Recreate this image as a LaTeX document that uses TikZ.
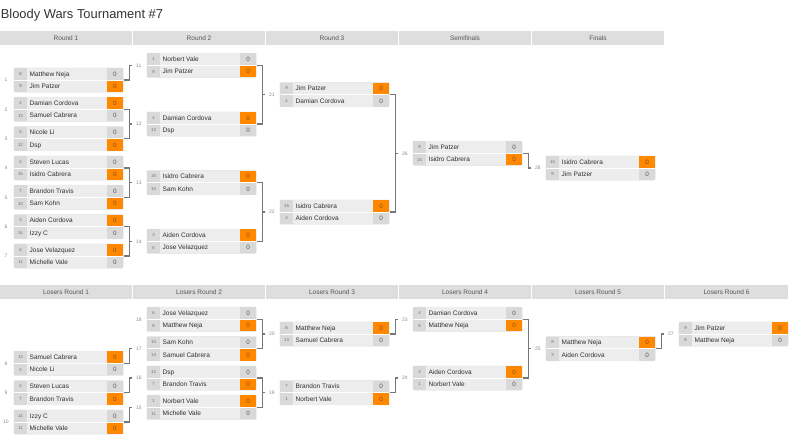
\documentclass[tikz,border=0pt]{standalone}
\usepackage{fontspec}
\setmainfont{Liberation Sans}
\usetikzlibrary{calc}
\definecolor{hdr}{HTML}{DEDEDE}
\definecolor{hdrtxt}{HTML}{555555}
\definecolor{seedbg}{HTML}{D9D9D9}
\definecolor{namebg}{HTML}{EDEDED}
\definecolor{scorebg}{HTML}{D9D9D9}
\definecolor{winbg}{HTML}{FF8800}
\definecolor{wintxt}{HTML}{8C4A00}
\definecolor{losetxt}{HTML}{555555}
\definecolor{nametxt}{HTML}{2E2E2E}
\definecolor{seedtxt}{HTML}{6E6E6E}
\definecolor{lbltxt}{HTML}{888888}
\definecolor{connc}{HTML}{777777}
\definecolor{titletxt}{HTML}{333333}
\definecolor{boxedge}{HTML}{E8E8E8}
\tikzset{
  hdrlbl/.style={font=\fontsize{6.5}{7}\selectfont, text=hdrtxt, inner sep=0pt, anchor=base},
  matchbox/.style={minimum width=109pt, minimum height=24pt, inner sep=0pt, draw=boxedge, line width=1pt, rounded corners=1pt},
  seedlbl/.style={font=\fontsize{4.3}{5}\selectfont, text=seedtxt, inner sep=0pt, anchor=base},
  namelbl/.style={font=\fontsize{6.5}{7}\selectfont, text=nametxt, inner sep=0pt, anchor=base west},
  scorelbl/.style={font=\fontsize{6.3}{7}\selectfont, inner sep=0pt, anchor=base},
  lbl/.style={font=\fontsize{5}{6}\selectfont, text=lbltxt, inner sep=0pt, anchor=west},
  rlbl/.style={font=\fontsize{5}{6}\selectfont, text=lbltxt, inner sep=0pt},
  conn/.style={draw=connc, line width=1.2pt},
}
% row: id, x0, ytop, seed, name, A/B
\newcommand\brow[6]{%
  \fill[seedbg] (#2,#3) rectangle ++(13,11.5);
  \fill[namebg] ({#2+13},#3) rectangle ++(80,11.5);
  \fill[sc#6] ({#2+93},#3) rectangle ++(16,11.5);
  \node[seedlbl] (#1s) at ({#2+6.5},{#3+7.3}) {#4};
  \node[namelbl] (#1n) at ({#2+15.5},{#3+8.1}) {#5};
  \node[scorelbl, text=st#6] (#1p) at ({#2+101},{#3+8.1}) {0};
}
% match: id, x0, ycenter, seed1, name1, winner(1/2), seed2, name2
\newcommand\bmatch[8]{%
  \ifnum#6=1 \colorlet{scA}{winbg}\colorlet{stA}{wintxt}\colorlet{scB}{scorebg}\colorlet{stB}{losetxt}%
  \else \colorlet{scA}{scorebg}\colorlet{stA}{losetxt}\colorlet{scB}{winbg}\colorlet{stB}{wintxt}\fi
  \node[matchbox] (m#1) at ({#2+54.5},{#3}) {};
  \brow{m#1a}{#2}{#3-12}{#4}{#5}{A}
  \brow{m#1b}{#2}{#3+0.5}{#7}{#8}{B}
}
\newcommand\bsingle[2]{\draw[conn] (m#1.east) -- ++(5.7,0) |- ([xshift=-4pt]l#2.west);}
\newcommand\bpairc[3]{\draw[conn] (m#1.east) -- ++(5.7,0) |- (m#2.east);
  \draw[conn] ([xshift=-4pt]l#3.west) -- ++(-3.3,0);}
\begin{document}
\begin{tikzpicture}[x=1pt,y=-1pt]
\useasboundingbox (0,0) rectangle (799,442);
\node[anchor=base west, inner sep=0pt, font=\fontsize{12.9}{14}\selectfont, text=titletxt] (title) at (0.6,18.2) {Bloody Wars Tournament \#7};
% headers
\foreach \i/\t in {0/Round 1,1/Round 2,2/Round 3,3/Semifinals,4/Finals}{
  \fill[hdr] ({133*\i},31) rectangle ++(132,14);
  \node[hdrlbl] (hw\i) at ({133*\i+66},40.3) {\t};
}
\foreach \i/\w in {0/132,1/132,2/132,3/132,4/132,5/123}{
  \fill[hdr] ({133*\i},285) rectangle ++(\w,14);
  \pgfmathtruncatemacro\n{\i+1}
  \node[hdrlbl] (hl\i) at ({133*\i+\w/2},294.5) {Losers Round \n};
}
% winners bracket
\bmatch{1}{14}{80}{8}{Matthew Neja}{2}{9}{Jim Patzer}
\bmatch{2}{14}{109.33}{4}{Damian Cordova}{1}{13}{Samuel Cabrera}
\bmatch{3}{14}{138.67}{5}{Nicole Li}{2}{12}{Dsp}
\bmatch{4}{14}{168}{2}{Steven Lucas}{2}{15}{Isidro Cabrera}
\bmatch{5}{14}{197.33}{7}{Brandon Travis}{2}{10}{Sam Kohn}
\bmatch{6}{14}{226.67}{3}{Aiden Cordova}{1}{14}{Izzy C}
\bmatch{7}{14}{256}{6}{Jose Velazquez}{1}{11}{Michelle Vale}
\bmatch{11}{147}{65.33}{1}{Norbert Vale}{2}{9}{Jim Patzer}
\bmatch{12}{147}{124}{4}{Damian Cordova}{1}{12}{Dsp}
\bmatch{13}{147}{182.67}{15}{Isidro Cabrera}{1}{10}{Sam Kohn}
\bmatch{14}{147}{241.33}{3}{Aiden Cordova}{1}{6}{Jose Velazquez}
\bmatch{21}{280}{94.67}{9}{Jim Patzer}{1}{4}{Damian Cordova}
\bmatch{22}{280}{212}{15}{Isidro Cabrera}{1}{3}{Aiden Cordova}
\bmatch{26}{413}{153.33}{9}{Jim Patzer}{2}{15}{Isidro Cabrera}
\bmatch{28}{546}{168}{15}{Isidro Cabrera}{1}{9}{Jim Patzer}
% losers bracket
\bmatch{8}{14}{363.33}{13}{Samuel Cabrera}{1}{5}{Nicole Li}
\bmatch{9}{14}{392.67}{2}{Steven Lucas}{2}{7}{Brandon Travis}
\bmatch{10}{14}{422}{14}{Izzy C}{2}{11}{Michelle Vale}
\bmatch{18}{147}{319.33}{6}{Jose Velazquez}{2}{8}{Matthew Neja}
\bmatch{17}{147}{348.67}{10}{Sam Kohn}{2}{13}{Samuel Cabrera}
\bmatch{16}{147}{378}{12}{Dsp}{2}{7}{Brandon Travis}
\bmatch{15}{147}{407.33}{1}{Norbert Vale}{1}{11}{Michelle Vale}
\bmatch{20}{280}{334}{8}{Matthew Neja}{1}{13}{Samuel Cabrera}
\bmatch{19}{280}{392.67}{7}{Brandon Travis}{2}{1}{Norbert Vale}
\bmatch{23}{413}{319.33}{4}{Damian Cordova}{2}{8}{Matthew Neja}
\bmatch{24}{413}{378}{3}{Aiden Cordova}{1}{1}{Norbert Vale}
\bmatch{25}{546}{348.67}{8}{Matthew Neja}{1}{3}{Aiden Cordova}
\bmatch{27}{679}{334}{9}{Jim Patzer}{1}{8}{Matthew Neja}
% left match numbers
\foreach \k/\yy in {1/80,2/109.33,3/138.67,4/168,5/197.33,6/226.67,7/256,8/363.33,9/392.67,10/422}{
  \node[rlbl] (r\k) at (6,\yy) {\k};
}
% connector labels
\node[lbl] (l11) at (136,65.33) {11};
\node[lbl] (l12) at (136,124) {12};
\node[lbl] (l13) at (136,182.67) {13};
\node[lbl] (l14) at (136,241.33) {14};
\node[lbl] (l21) at (269,94.67) {21};
\node[lbl] (l22) at (269,212) {22};
\node[lbl] (l26) at (402,153.33) {26};
\node[lbl] (l28) at (535,168) {28};
\node[lbl] (l18) at (136,319.33) {18};
\node[lbl] (l17) at (136,348.67) {17};
\node[lbl] (l16) at (136,378) {16};
\node[lbl] (l15) at (136,407.33) {15};
\node[lbl] (l20) at (269,334) {20};
\node[lbl] (l19) at (269,392.67) {19};
\node[lbl] (l23) at (402,319.33) {23};
\node[lbl] (l24) at (402,378) {24};
\node[lbl] (l25) at (535,348.67) {25};
\node[lbl] (l27) at (668,334) {27};
% connectors
\bsingle{1}{11}
\bpairc{2}{3}{12}
\bpairc{4}{5}{13}
\bpairc{6}{7}{14}
\bpairc{11}{12}{21}
\bpairc{13}{14}{22}
\bpairc{21}{22}{26}
\bsingle{26}{28}
\bsingle{8}{17}
\bsingle{9}{16}
\bsingle{10}{15}
\bpairc{18}{17}{20}
\bpairc{16}{15}{19}
\bsingle{20}{23}
\bsingle{19}{24}
\bpairc{23}{24}{25}
\bsingle{25}{27}
\end{tikzpicture}
\end{document}
